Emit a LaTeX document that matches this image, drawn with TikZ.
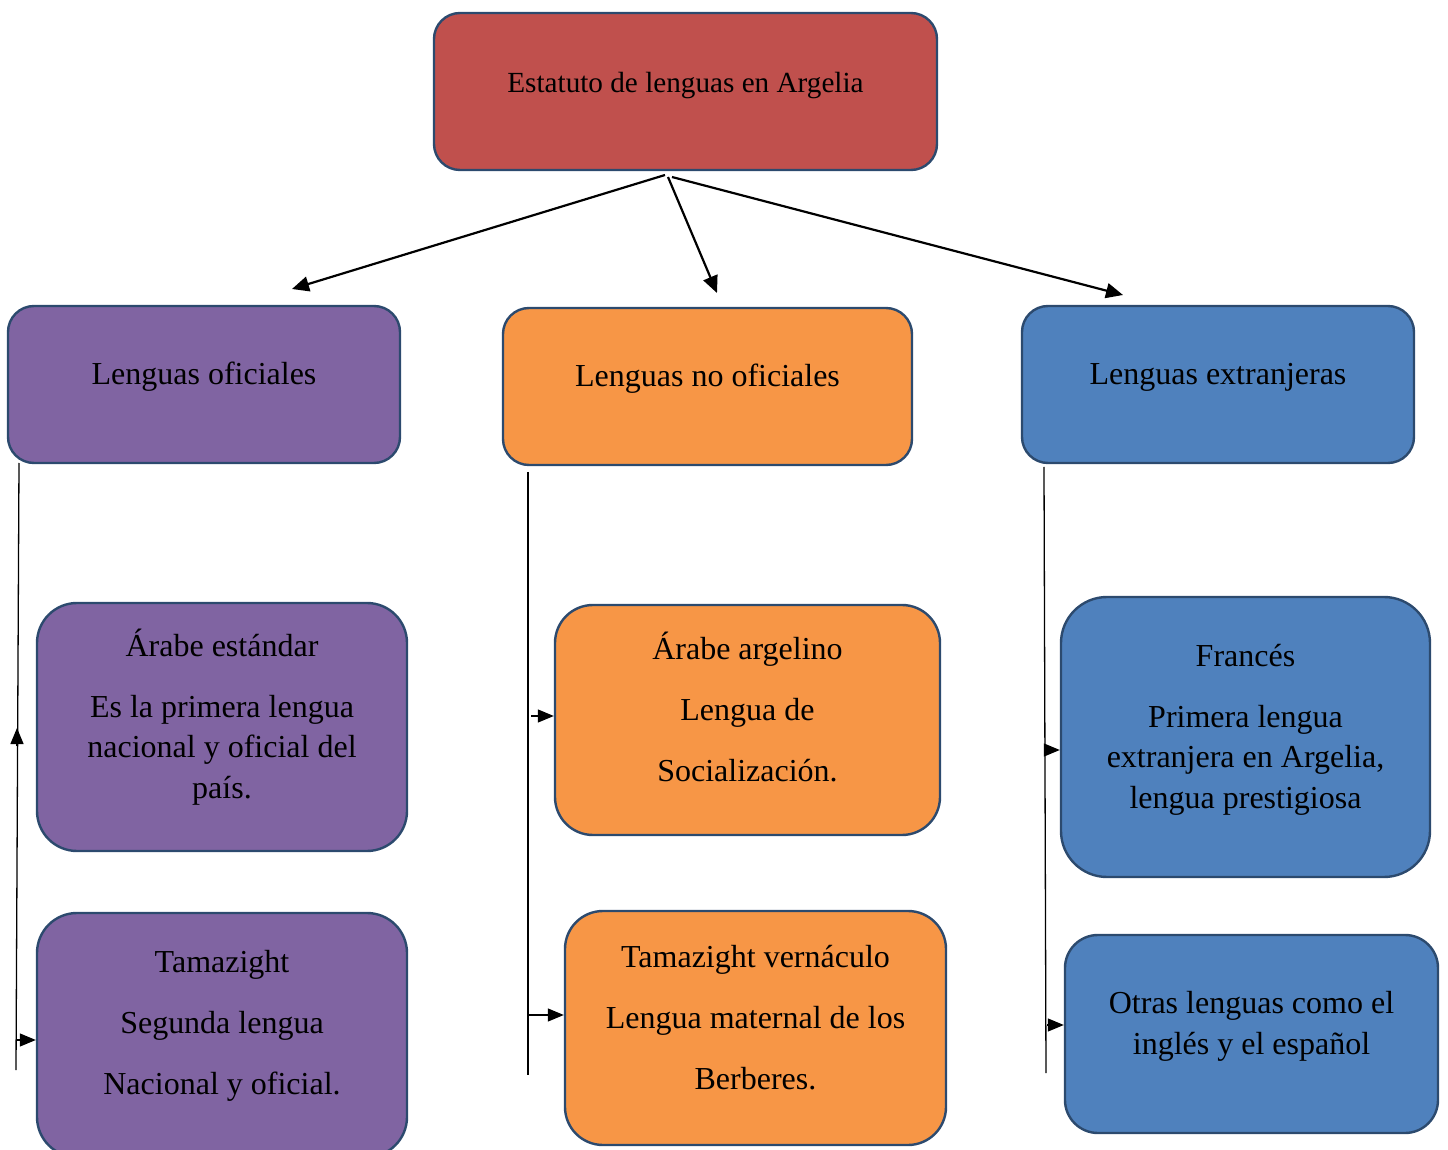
\documentclass[tikz,border=0pt]{standalone}
\usepackage{fontspec}
\setmainfont{Liberation Serif}
\usetikzlibrary{arrows.meta}
\definecolor{rojo}{HTML}{C0504D}
\definecolor{morado}{HTML}{8064A2}
\definecolor{naranja}{HTML}{F79646}
\definecolor{azul}{HTML}{4F81BD}
\definecolor{borde}{HTML}{2C4A6E}
% text of a box, lifted a little above the middle
\newcommand{\texto}[2][4pt]{\raisebox{#1}[\height][\depth]{\begin{tabular}{@{}c@{}}#2\end{tabular}}}
\tikzset{
  caja/.style={draw=borde, line width=1.2pt, inner sep=0pt, text=black,
               font=\fontsize{16}{20.25}\selectfont},
  rama/.style={-{Triangle[length=8.5pt,width=7.5pt]}, line width=1.1pt},
  linea/.style={line width=0.65pt},
  punta/.style={-{Triangle[length=8pt,width=6.5pt]}, line width=0.65pt}
}
\begin{document}
\begin{tikzpicture}[x=0.5pt,y=-0.5pt]
                    \clip (0,0) rectangle (1448,1150);

                    % top and the three groups
                    \node[caja, fill=rojo, rounded corners=13pt, minimum width=251.5pt, minimum height=78.5pt,
                          font=\fontsize{14.6}{18}\selectfont] (estatuto) at (685.5,91.5) {\texto[3pt]{Estatuto de lenguas en Argelia}};
                    \node[caja, fill=morado, rounded corners=13pt, minimum width=196pt, minimum height=78.5pt] (oficiales) at (204,384.5) {\texto{Lenguas oficiales}};
                    \node[caja, fill=naranja, rounded corners=13pt, minimum width=204.5pt, minimum height=78.5pt] (nooficiales) at (707.5,386.5) {\texto{Lenguas no oficiales}};
                    \node[caja, fill=azul, rounded corners=13pt, minimum width=196pt, minimum height=78.5pt] (extranjeras) at (1218,384.5) {\texto{Lenguas extranjeras}};

                    % the languages
                    \node[caja, fill=morado, rounded corners=20pt, minimum width=185pt, minimum height=124pt] (estandar) at (222,727)
                        {\texto{Árabe estándar\\[10.25pt] Es la primera lengua\\ nacional y oficial del\\ país.}};
                    \node[caja, fill=morado, rounded corners=20pt, minimum width=185pt, minimum height=122pt] (tamazight) at (222,1035)
                        {\texto[5pt]{Tamazight\\[10.25pt] Segunda lengua\\[10.25pt] Nacional y oficial.}};
                    \node[caja, fill=naranja, rounded corners=19pt, minimum width=192.5pt, minimum height=115pt] (argelino) at (747.5,720)
                        {\texto{Árabe argelino\\[10.25pt] Lengua de\\[10.25pt] Socialización.}};
                    \node[caja, fill=naranja, rounded corners=19pt, minimum width=190.5pt, minimum height=117pt] (vernaculo) at (755.5,1028)
                        {\texto{Tamazight vernáculo\\[10.25pt] Lengua maternal de los\\[10.25pt] Berberes.}};
                    \node[caja, fill=azul, rounded corners=23pt, minimum width=184.5pt, minimum height=140pt] (frances) at (1245.5,737)
                        {\texto{Francés\\[10.25pt] Primera lengua\\ extranjera en Argelia,\\ lengua prestigiosa}};
                    \node[caja, fill=azul, rounded corners=16.5pt, minimum width=186.5pt, minimum height=99pt] (otras) at (1251.5,1034)
                        {\texto{Otras lenguas como el\\ inglés y el español}};

                    % ends of the lines
                    \coordinate (r1) at (665,175);  \coordinate (f1) at (292,289);
                    \coordinate (r2) at (668,177);  \coordinate (f2) at (717,293);
                    \coordinate (r3) at (672,177);  \coordinate (f3) at (1123,295);
                    \coordinate (iA) at (19,463);   \coordinate (iB) at (16,1070);
                    \coordinate (mA) at (528,472);  \coordinate (mB) at (528,1075);
                    \coordinate (dA) at (1044,467); \coordinate (dB) at (1046,1073);
                    \coordinate (i1) at (17,746);   \coordinate (i2) at (17,728);
                    \coordinate (i3) at (17,1040);
                    \coordinate (m1) at (531,716);  \coordinate (m2) at (528,1015);
                    \coordinate (d1) at (1046,750); \coordinate (d2) at (1047,1025);

                    \draw[rama] (r1) -- (f1);
                    \draw[rama] (r2) -- (f2);
                    \draw[rama] (r3) -- (f3);

                    \draw[linea] (iA) -- (iB);
                    \draw[linea] (mA) -- (mB);
                    \draw[linea] (dA) -- (dB);

                    \draw[punta] (i1) -- (i2);
                    \draw[punta] (i3) -- (i3 -| tamazight.west);
                    \draw[punta] (m1) -- (m1 -| argelino.west);
                    \draw[punta] (m2) -- (m2 -| vernaculo.west);
                    \draw[punta] (d1) -- (d1 -| frances.west);
                    \draw[punta] (d2) -- (d2 -| otras.west);
                \end{tikzpicture}
\end{document}
